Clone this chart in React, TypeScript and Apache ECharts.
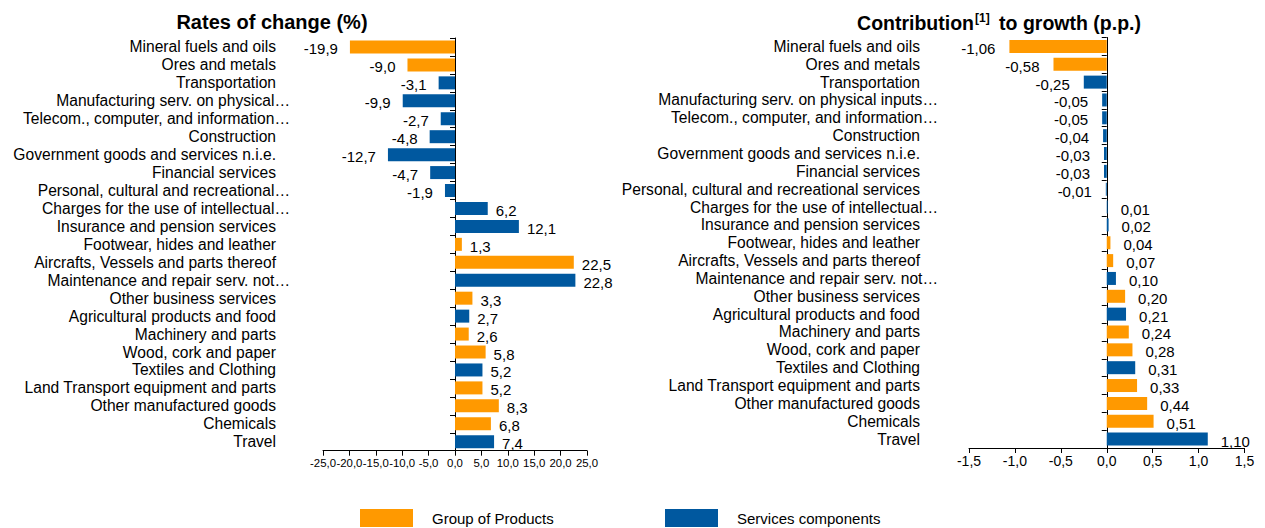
import React, { useEffect, useRef } from "react";
import * as echarts from "echarts";

const labelsLeft = [
  "Mineral fuels and oils",
  "Ores and metals",
  "Transportation",
  "Manufacturing serv. on physical…",
  "Telecom., computer, and information…",
  "Construction",
  "Government goods and services n.i.e.",
  "Financial services",
  "Personal, cultural and recreational…",
  "Charges for the use of intellectual…",
  "Insurance and pension services",
  "Footwear, hides and leather",
  "Aircrafts, Vessels and parts thereof",
  "Maintenance and repair serv. not…",
  "Other business services",
  "Agricultural products and food",
  "Machinery and parts",
  "Wood, cork and paper",
  "Textiles and Clothing",
  "Land Transport equipment and parts",
  "Other manufactured goods",
  "Chemicals",
  "Travel",
];

const labelsRight = [
  "Mineral fuels and oils",
  "Ores and metals",
  "Transportation",
  "Manufacturing serv. on physical inputs…",
  "Telecom., computer, and information…",
  "Construction",
  "Government goods and services n.i.e.",
  "Financial services",
  "Personal, cultural and recreational services",
  "Charges for the use of intellectual…",
  "Insurance and pension services",
  "Footwear, hides and leather",
  "Aircrafts, Vessels and parts thereof",
  "Maintenance and repair serv. not…",
  "Other business services",
  "Agricultural products and food",
  "Machinery and parts",
  "Wood, cork and paper",
  "Textiles and Clothing",
  "Land Transport equipment and parts",
  "Other manufactured goods",
  "Chemicals",
  "Travel",
];

// P = Group of Products, S = Services components (colour as drawn)
const groups = ["P", "P", "S", "S", "S", "S", "S", "S", "S", "S", "S", "P", "P", "S", "P", "S", "P", "P", "S", "P", "P", "P", "S"];

const ratesOfChange = [-19.9, -9.0, -3.1, -9.9, -2.7, -4.8, -12.7, -4.7, -1.9, 6.2, 12.1, 1.3, 22.5, 22.8, 3.3, 2.7, 2.6, 5.8, 5.2, 5.2, 8.3, 6.8, 7.4];

const contributions = [-1.06, -0.58, -0.25, -0.05, -0.05, -0.04, -0.03, -0.03, -0.01, 0.01, 0.02, 0.04, 0.07, 0.1, 0.2, 0.21, 0.24, 0.28, 0.31, 0.33, 0.44, 0.51, 1.1];

const seriesNames = ["Group of Products", "Services components"];
const seriesKeys = ["P", "S"];
const colors = ["#FF9900", "#00589F"];

const FONT = "'Liberation Sans', Arial, sans-serif";

export default function App() {
  const ref = useRef<HTMLDivElement>(null);

  useEffect(() => {
    if (!ref.current) return;
    const chart = echarts.init(ref.current, null, { renderer: "svg" });

    const makeData = (values: number[], key: string, negDist: number, posDist: number) =>
      values.map((v, i) =>
        groups[i] === key
          ? {
              value: v,
              label: {
                position: v < 0 ? "left" : "right",
                distance: v < 0 ? negDist : posDist,
              },
            }
          : "-"
      );

    const catLabel = (padRight: number, margin: number) => ({
      show: true,
      interval: 0,
      margin,
      color: "#000",
      fontFamily: FONT,
      fontSize: 15.6,
      formatter: (v: string) => (v.endsWith("…") ? `{e|${v}}` : `{n|${v}}`),
      rich: {
        e: { fontFamily: FONT, fontSize: 15.6, color: "#000" },
        n: { fontFamily: FONT, fontSize: 15.6, color: "#000", padding: [0, padRight, 0, 0] },
      },
    });

    const series: any[] = [];
    [0, 1].forEach((chartIdx) => {
      seriesKeys.forEach((key, k) => {
        const values = chartIdx === 0 ? ratesOfChange : contributions;
        const dec = chartIdx === 0 ? 1 : 2;
        series.push({
          name: seriesNames[k],
          type: "bar",
          xAxisIndex: chartIdx,
          yAxisIndex: chartIdx * 2,
          barWidth: 13,
          barGap: "-100%",
          itemStyle: { color: colors[k] },
          data: chartIdx === 0 ? makeData(values, key, 12, 8) : makeData(values, key, 14, 13),
          label: {
            show: true,
            color: "#000",
            fontFamily: FONT,
            fontSize: 15,
            offset: [0, 2],
            formatter: (p: any) => Number(p.value).toFixed(dec).replace(".", ","),
          },
        });
      });
    });

    const valueAxis = (gridIndex: number, min: number, max: number, interval: number, dec: number, fontSize: number, margin: number) => ({
      type: "value",
      gridIndex,
      min,
      max,
      interval,
      splitLine: { show: false },
      axisLine: { show: true, onZero: false, lineStyle: { color: "#000", width: 1 } },
      axisTick: { show: true, length: 5, lineStyle: { color: "#000" } },
      axisLabel: {
        color: "#000",
        fontFamily: FONT,
        fontSize,
        margin,
        hideOverlap: false,
        formatter: (v: number) => v.toFixed(dec).replace(".", ","),
      },
    });

    const labelAxis = (gridIndex: number, labels: string[], padRight: number, margin: number) => ({
      type: "category",
      gridIndex,
      data: labels,
      inverse: true,
      position: "left",
      axisLine: { show: false, onZero: false },
      axisTick: { show: false },
      axisLabel: catLabel(padRight, margin),
    });

    const tickAxis = (gridIndex: number, labels: string[]) => ({
      type: "category",
      gridIndex,
      data: labels,
      inverse: true,
      position: "left",
      axisLine: { show: true, onZero: true, lineStyle: { color: "#000", width: 1 } },
      axisTick: { show: true, length: 5, interval: 0, lineStyle: { color: "#000" } },
      axisLabel: { show: false },
    });

    chart.setOption({
      animation: false,
      backgroundColor: "#fff",
      title: [
        {
          text: "Rates of change (%)",
          left: 267,
          top: 7,
          textAlign: "center",
          textStyle: { fontFamily: FONT, fontSize: 20, fontWeight: "bold", color: "#000" },
        },
        {
          text: "{b|Contribution}{s|[1]}{b| to growth (p.p.)}",
          left: 994,
          top: 7,
          textAlign: "center",
          textStyle: {
            fontFamily: FONT,
            color: "#000",
            rich: {
              b: { fontFamily: FONT, fontSize: 19.5, fontWeight: "bold", color: "#000" },
              s: { fontFamily: FONT, fontSize: 12, fontWeight: "bold", color: "#000", padding: [0, 4, 9, 1] },
            },
          },
        },
      ],
      legend: [
        {
          data: [seriesNames[0]],
          left: 360,
          top: 509,
          padding: 0,
          itemWidth: 53,
          itemHeight: 18,
          icon: "rect",
          textStyle: { fontFamily: FONT, fontSize: 15, color: "#000", padding: [0, 0, 0, 14] },
        },
        {
          data: [seriesNames[1]],
          left: 665,
          top: 509,
          padding: 0,
          itemWidth: 53,
          itemHeight: 18,
          icon: "rect",
          textStyle: { fontFamily: FONT, fontSize: 15, color: "#000", padding: [0, 0, 0, 14] },
        },
      ],
      grid: [
        { left: 323, top: 38, width: 264, height: 412.7, containLabel: false },
        { left: 969, top: 37.5, width: 275.5, height: 410.5, containLabel: false },
      ],
      xAxis: [
        valueAxis(0, -25, 25, 5, 1, 11.4, 7),
        valueAxis(1, -1.5, 1.5, 0.5, 1, 14, 6),
      ],
      yAxis: [
        labelAxis(0, labelsLeft, 14, 33),
        tickAxis(0, labelsLeft),
        labelAxis(1, labelsRight, 18, 31),
        tickAxis(1, labelsRight),
      ],
      series,
    });

    return () => chart.dispose();
  }, []);

  return (
    <div
      ref={ref}
      style={{ position: "fixed", left: 0, top: 0, width: 1265, height: 528, background: "#fff" }}
    />
  );
}
